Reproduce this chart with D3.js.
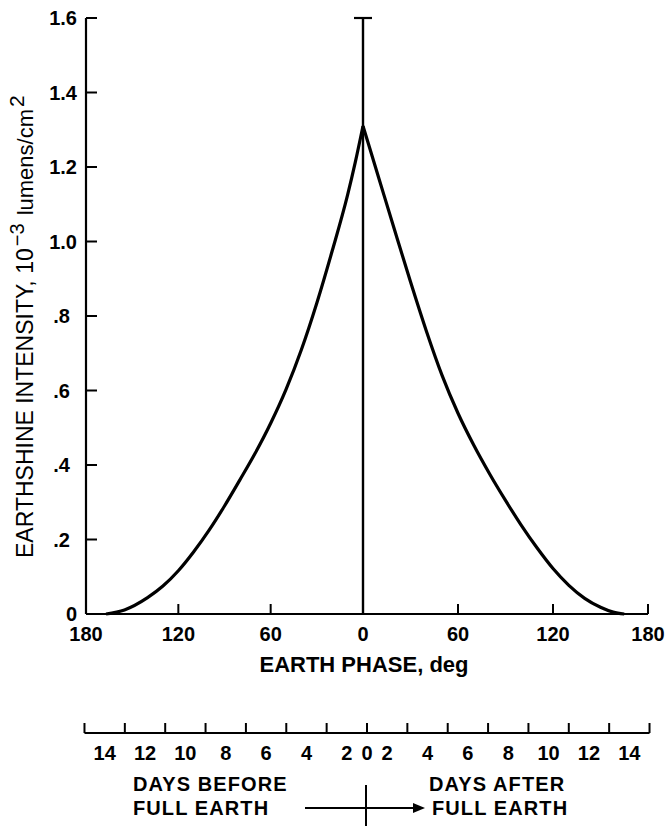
<!DOCTYPE html>
<html>
<head>
<meta charset="utf-8">
<script src="https://cdn.jsdelivr.net/npm/d3@7"></script>
<style>
  html, body { margin: 0; padding: 0; background: #fff; }
  svg { display: block; }
  text { font-family: "Liberation Sans", Arial, Helvetica, sans-serif; fill: #000; }
</style>
</head>
<body>
<svg id="chart" width="668" height="826"></svg>
<script>
// ---- data ----
const leftPhase  = [-167, -155, -140, -130, -120, -110, -100, -90, -80, -70, -60, -50, -40, -30, -20, -10, -5, 0];
const leftValue  = [0, 0.011, 0.044, 0.075, 0.116, 0.167, 0.225, 0.29, 0.36, 0.432, 0.512, 0.603, 0.71, 0.835, 0.975, 1.125, 1.213, 1.31];
const rightPhase = [0, 10, 20, 30, 40, 50, 60, 70, 80, 90, 100, 110, 120, 130, 140, 150, 158, 165];
const rightValue = [1.31, 1.17, 1.03, 0.892, 0.76, 0.64, 0.539, 0.453, 0.376, 0.305, 0.238, 0.177, 0.122, 0.077, 0.042, 0.018, 0.005, 0];
const phaseTicks = [-180, -120, -60, 0, 60, 120, 180];
const intensityTicks = [0, 0.2, 0.4, 0.6, 0.8, 1.0, 1.2, 1.4, 1.6];
const intensityLabels = ["0", ".2", ".4", ".6", ".8", "1.0", "1.2", "1.4", "1.6"];
const dayTicks = [-15, -13, -11, -9, -7, -5, -3, 0, 3, 5, 7, 9, 11, 13, 15];
const dayLabels = [-14, -12, -10, -8, -6, -4, -2, 0, 2, 4, 6, 8, 10, 12, 14];

const svg = d3.select("#chart");

const x = d3.scaleLinear().domain([-180, 0, 180]).range([86, 363, 648]);
const y = d3.scaleLinear().domain([0, 1.6]).range([614, 18]);
const c = 367, u = 40.36;
const xd = d3.scaleLinear().domain([-15, -2, 0, 2, 15])
  .range([c - 7 * u, c - 0.5 * u, c, c + 0.5 * u, c + 7 * u]);

// ---- y axis ----
const yAxis = svg.append("g").attr("transform", `translate(${x(-180)},0)`);
yAxis.append("line").attr("x1", 0).attr("x2", 0).attr("y1", y(1.6)).attr("y2", y(0))
  .attr("stroke", "#000").attr("stroke-width", 2.2);
yAxis.selectAll("line.tick").data(intensityTicks).join("line").attr("class", "tick")
  .attr("x1", 0).attr("x2", 11).attr("y1", d => y(d)).attr("y2", d => y(d))
  .attr("stroke", "#000").attr("stroke-width", 2);
yAxis.selectAll("text").data(intensityTicks).join("text")
  .attr("x", (d, i) => (intensityLabels[i].startsWith(".") ? -16 : -9))
  .attr("y", d => y(d)).attr("dy", "0.36em")
  .attr("text-anchor", "end").attr("font-size", 20).attr("font-weight", "bold")
  .text((d, i) => intensityLabels[i]);

// ---- x axis ----
const xAxis = svg.append("g").attr("transform", `translate(0,${y(0)})`);
xAxis.append("line").attr("x1", x(-180)).attr("x2", x(180)).attr("y1", 0).attr("y2", 0)
  .attr("stroke", "#000").attr("stroke-width", 2.2);
xAxis.selectAll("line.tick").data(phaseTicks.filter(d => d !== -180)).join("line").attr("class", "tick")
  .attr("x1", d => x(d)).attr("x2", d => x(d)).attr("y1", 0).attr("y2", -10)
  .attr("stroke", "#000").attr("stroke-width", 2);
xAxis.selectAll("text").data(phaseTicks).join("text")
  .attr("x", d => x(d)).attr("y", 27)
  .attr("text-anchor", "middle").attr("font-size", 20).attr("font-weight", "bold")
  .text(d => Math.abs(d));

svg.append("text").attr("x", 364).attr("y", 672).attr("text-anchor", "middle")
  .attr("font-size", 22).attr("font-weight", "bold").text("EARTH PHASE, deg");

// ---- y title ----
const yt = svg.append("text").attr("transform", "translate(33,558) rotate(-90)")
  .attr("font-size", 23);
yt.append("tspan").text("EARTHSHINE INTENSITY, 10");
yt.append("tspan").attr("font-size", 20).attr("dx", 2).attr("dy", -9).text("\u22123");
yt.append("tspan").attr("font-size", 22).attr("dx", 2).attr("dy", 9).text(" lumens/cm");
yt.append("tspan").attr("font-size", 21).attr("dx", 2).attr("dy", -9).text("2");

// ---- center line ----
svg.append("line").attr("x1", x(0)).attr("x2", x(0)).attr("y1", y(0)).attr("y2", y(1.6))
  .attr("stroke", "#000").attr("stroke-width", 2.4);
svg.append("line").attr("x1", x(0) - 9).attr("x2", x(0) + 9).attr("y1", y(1.6)).attr("y2", y(1.6))
  .attr("stroke", "#000").attr("stroke-width", 2.2);

// ---- curve ----
const line = d3.line().x(d => x(d[0])).y(d => y(d[1])).curve(d3.curveMonotoneX);
svg.append("path").datum(leftPhase.map((p, i) => [p, leftValue[i]]))
  .attr("d", line).attr("fill", "none").attr("stroke", "#000").attr("stroke-width", 3.2);
svg.append("path").datum(rightPhase.map((p, i) => [p, rightValue[i]]))
  .attr("d", line).attr("fill", "none").attr("stroke", "#000").attr("stroke-width", 3.2);

// ---- days axis ----
const dAxisY = 733;
const dAxis = svg.append("g").attr("transform", `translate(0,${dAxisY})`);
dAxis.append("line").attr("x1", xd(-15)).attr("x2", xd(15)).attr("y1", 0).attr("y2", 0)
  .attr("stroke", "#000").attr("stroke-width", 2.2);
dAxis.selectAll("line.tick").data(dayTicks).join("line").attr("class", "tick")
  .attr("x1", d => xd(d)).attr("x2", d => xd(d)).attr("y1", 0).attr("y2", -10)
  .attr("stroke", "#000").attr("stroke-width", 2);
dAxis.selectAll("text").data(dayLabels).join("text")
  .attr("x", d => xd(d)).attr("y", 27)
  .attr("text-anchor", "middle").attr("font-size", 20).attr("font-weight", "bold")
  .text(d => Math.abs(d));

// before / after labels
const lab = svg.append("g").attr("font-size", 20).attr("font-weight", "bold")
  .attr("letter-spacing", 1.1);
lab.append("text").attr("x", 133).attr("y", 791).text("DAYS BEFORE");
lab.append("text").attr("x", 133).attr("y", 815).text("FULL EARTH");
lab.append("text").attr("x", 429).attr("y", 791).text("DAYS AFTER");
lab.append("text").attr("x", 432).attr("y", 815).text("FULL EARTH");

svg.append("line").attr("x1", xd(0) - 1).attr("x2", xd(0) - 1).attr("y1", 785).attr("y2", 826)
  .attr("stroke", "#000").attr("stroke-width", 2);
svg.append("line").attr("x1", 305).attr("x2", 416).attr("y1", 808).attr("y2", 808)
  .attr("stroke", "#000").attr("stroke-width", 2);
svg.append("path").attr("d", "M425,808 L413,803 L413,813 Z").attr("fill", "#000");
</script>
</body>
</html>
